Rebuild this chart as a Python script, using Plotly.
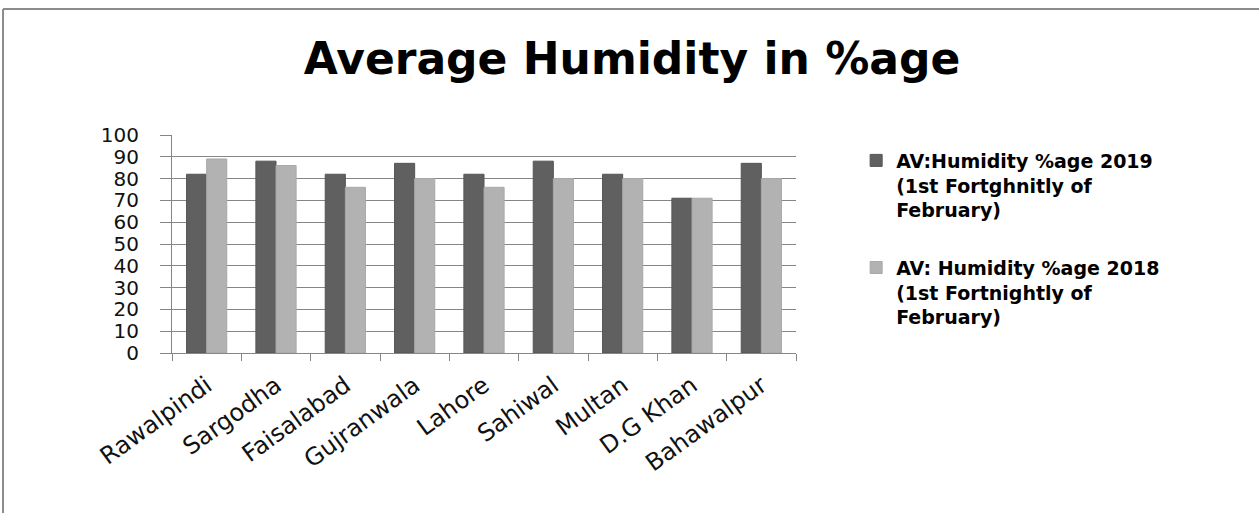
import plotly.graph_objects as go

# Data
cities = ["Rawalpindi", "Sargodha", "Faisalabad", "Gujranwala", "Lahore",
          "Sahiwal", "Multan", "D.G Khan", "Bahawalpur"]
humidity_2019 = [82, 88, 82, 87, 82, 88, 82, 71, 87]
humidity_2018 = [89, 86, 76, 80, 76, 80, 80, 71, 80]
y_ticks = [0, 10, 20, 30, 40, 50, 60, 70, 80, 90, 100]

name_2019 = "AV:Humidity %age 2019<br>(1st Fortghnitly of<br>February)"
name_2018 = "AV: Humidity %age 2018<br>(1st Fortnightly of<br>February)"

fig = go.Figure()
fig.add_trace(go.Bar(x=cities, y=humidity_2019, name=name_2019, legendgroup="a",
                     marker=dict(color="#606060", line=dict(color="#555555", width=1))))
fig.add_trace(go.Bar(x=cities, y=humidity_2018, name=name_2018, legendgroup="b",
                     marker=dict(color="#b2b2b2", line=dict(color="#a8a8a8", width=1))))

# outer chart border (only top and left edges are in view)
fig.add_shape(type="line", xref="paper", yref="paper", x0=-0.2708, x1=1.9, y0=1.578, y1=1.578,
              line=dict(color="#8c8c8c", width=2))
fig.add_shape(type="line", xref="paper", yref="paper", x0=-0.2708, x1=-0.2708, y0=1.578, y1=-1.2,
              line=dict(color="#8c8c8c", width=2))

fig.update_layout(
    width=1259, height=513,
    margin=dict(l=172, r=463, t=135, b=160, autoexpand=False),
    paper_bgcolor="white", plot_bgcolor="white",
    barmode="group", bargap=0.42, bargroupgap=0,
    title=dict(text="<b>Average Humidity in %age</b>", x=0.502, xanchor="center",
               y=0.885, yref="container", yanchor="middle",
               font=dict(family="DejaVu Sans", size=44, color="black")),
    legend=dict(x=1.0964, xanchor="left", y=0.97, yanchor="top", valign="top",
                font=dict(family="DejaVu Sans", size=19, color="black", weight="bold"),
                tracegroupgap=30, itemwidth=30, bgcolor="rgba(0,0,0,0)"),
    showlegend=True,
)
fig.update_yaxes(range=[0, 100], tickvals=y_ticks, showgrid=True, gridcolor="#868686",
                 gridwidth=1, showline=True, linecolor="#868686", linewidth=1,
                 ticks="outside", ticklen=11, tickcolor="#868686", ticklabelstandoff=17,
                 tickfont=dict(family="DejaVu Sans", size=20, color="#111111"),
                 zeroline=False, automargin=False)
fig.update_xaxes(showline=True, linecolor="#868686", linewidth=1, ticks="outside",
                 tickson="boundaries", ticklen=7, tickcolor="#868686", tickangle=-36,
                 ticklabelstandoff=8,
                 tickfont=dict(family="DejaVu Sans", size=24, color="#111111"),
                 automargin=False)

# drop the browser's default 8px body margin so the figure sits at the page origin
fig.write_html("out.html", config={"displayModeBar": False},
               post_script="document.body.style.margin='0';")
